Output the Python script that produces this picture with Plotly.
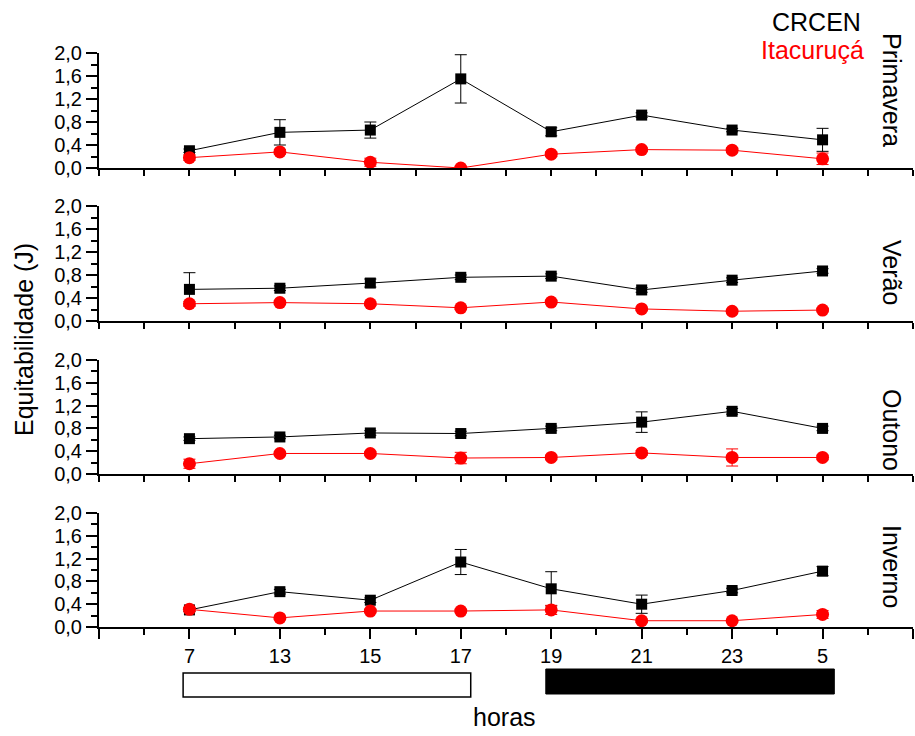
import plotly.graph_objects as go

hours = ["7", "13", "15", "17", "19", "21", "23", "5"]
seasons = ["Primavera", "Verão", "Outono", "Inverno"]

crcen = {
    "Primavera": [0.30, 0.62, 0.66, 1.55, 0.63, 0.92, 0.66, 0.49],
    "Verão":     [0.55, 0.57, 0.66, 0.76, 0.78, 0.54, 0.71, 0.87],
    "Outono":    [0.62, 0.65, 0.72, 0.71, 0.80, 0.91, 1.10, 0.80],
    "Inverno":   [0.30, 0.62, 0.47, 1.14, 0.67, 0.40, 0.64, 0.98],
}
crcen_err = {
    "Primavera": [0.03, 0.22, 0.14, 0.42, 0.07, 0.04, 0.03, 0.20],
    "Verão":     [0.29, 0.04, 0.07, 0.04, 0.04, 0.04, 0.04, 0.04],
    "Outono":    [0.03, 0.03, 0.04, 0.04, 0.04, 0.18, 0.05, 0.04],
    "Inverno":   [0.03, 0.04, 0.04, 0.22, 0.30, 0.16, 0.04, 0.08],
}
itac = {
    "Primavera": [0.18, 0.28, 0.10, 0.00, 0.24, 0.32, 0.31, 0.16],
    "Verão":     [0.30, 0.32, 0.30, 0.23, 0.33, 0.21, 0.17, 0.19],
    "Outono":    [0.18, 0.36, 0.36, 0.28, 0.29, 0.37, 0.29, 0.29],
    "Inverno":   [0.31, 0.16, 0.28, 0.28, 0.30, 0.11, 0.11, 0.22],
}
itac_err = {
    "Primavera": [0.05, 0.04, 0.07, 0.02, 0.04, 0.03, 0.04, 0.10],
    "Verão":     [0.04, 0.03, 0.03, 0.03, 0.03, 0.03, 0.02, 0.03],
    "Outono":    [0.08, 0.03, 0.03, 0.10, 0.04, 0.04, 0.15, 0.04],
    "Inverno":   [0.03, 0.03, 0.03, 0.03, 0.08, 0.03, 0.02, 0.07],
}
y_ticks = [0.0, 0.4, 0.8, 1.2, 1.6, 2.0]
y_ticktext = ["0,0", "0,4", "0,8", "1,2", "1,6", "2,0"]

W, H = 915, 736
FONT = "Liberation Sans, Arial, sans-serif"
xpos = list(range(1, len(hours) + 1))

# pixel positions of each panel (y of 2.0, y of 0.0)
panels_px = [(53, 168), (206, 321), (360, 474), (513, 627)]
x_left_px, x_right_px = 99, 913

fig = go.Figure()
layout = dict(
    width=W, height=H, autosize=False,
    margin=dict(l=0, r=0, t=0, b=0, pad=0, autoexpand=False),
    paper_bgcolor="white", plot_bgcolor="white",
    showlegend=False,
    font=dict(family=FONT, color="black"),
)

for i, s in enumerate(seasons):
    n = i + 1
    xa = "x" if n == 1 else f"x{n}"
    ya = "y" if n == 1 else f"y{n}"
    fig.add_trace(go.Scatter(
        x=xpos, y=crcen[s], xaxis=xa, yaxis=ya, mode="lines+markers",
        line=dict(color="black", width=1),
        marker=dict(symbol="square", size=11, color="black"),
        error_y=dict(type="data", array=crcen_err[s], color="black", thickness=1, width=6),
        name="CRCEN",
    ))
    fig.add_trace(go.Scatter(
        x=xpos, y=itac[s], xaxis=xa, yaxis=ya, mode="lines+markers",
        line=dict(color="red", width=1),
        marker=dict(symbol="circle", size=13, color="red"),
        error_y=dict(type="data", array=itac_err[s], color="red", thickness=1, width=6),
        name="Itacuruçá",
    ))
    top, bot = panels_px[i]
    xkey = "xaxis" if n == 1 else f"xaxis{n}"
    ykey = "yaxis" if n == 1 else f"yaxis{n}"
    layout[xkey] = dict(
        domain=[x_left_px / W, x_right_px / W], anchor=ya,
        range=[0, len(hours) + 1], tickmode="array",
        tickvals=list(range(0, len(hours) + 2)),
        ticktext=([""] + hours + [""]) if n == 4 else [""] * (len(hours) + 2),
        showticklabels=(n == 4), automargin=False,
        ticks="outside", ticklen=10, tickwidth=2, tickcolor="black",
        minor=dict(dtick=0.5, tick0=0, ticks="outside", ticklen=6, tickwidth=2, tickcolor="black"),
        showline=True, linewidth=2, linecolor="black",
        showgrid=False, zeroline=False,
        tickfont=dict(size=20, family=FONT, color="black"),
        fixedrange=True,
    )
    layout[ykey] = dict(
        domain=[1 - bot / H, 1 - top / H], anchor=xa,
        range=[0, 2.0], tickmode="array", tickvals=y_ticks, ticktext=y_ticktext,
        automargin=False,
        ticks="outside", ticklen=11, tickwidth=2, tickcolor="black",
        minor=dict(dtick=0.2, tick0=0, ticks="outside", ticklen=6, tickwidth=2, tickcolor="black"),
        showline=True, linewidth=2, linecolor="black",
        showgrid=False, zeroline=False,
        tickfont=dict(size=20, family=FONT, color="black"),
        fixedrange=True,
    )

fig.update_layout(**layout)

season_label_y = [90, 272, 430, 566]
annotations = []
for s, yc in zip(seasons, season_label_y):
    annotations.append(dict(
        text=s, x=892 / W, y=1 - yc / H, xref="paper", yref="paper",
        showarrow=False, textangle=90, xanchor="center", yanchor="middle",
        font=dict(size=25, family=FONT, color="black"),
    ))
annotations += [
    dict(text="CRCEN", x=816 / W, y=1 - 22 / H, xref="paper", yref="paper",
         showarrow=False, xanchor="center", yanchor="middle",
         font=dict(size=25, family=FONT, color="black")),
    dict(text="Itacuruçá", x=812 / W, y=1 - 50 / H, xref="paper", yref="paper",
         showarrow=False, xanchor="center", yanchor="middle",
         font=dict(size=25, family=FONT, color="red")),
    dict(text="Equitabilidade (J)", x=24 / W, y=1 - 340 / H, xref="paper", yref="paper",
         showarrow=False, textangle=-90, xanchor="center", yanchor="middle",
         font=dict(size=25, family=FONT, color="black")),
    dict(text="horas", x=504 / W, y=1 - 717 / H, xref="paper", yref="paper",
         showarrow=False, xanchor="center", yanchor="middle",
         font=dict(size=25, family=FONT, color="black")),
]
fig.update_layout(annotations=annotations)

# day / night bars (in x data units of bottom axis)
day_span = (0.93, 4.11)
night_span = (4.94, 8.13)
fig.add_shape(type="rect", xref="x4", yref="paper",
              x0=day_span[0], x1=day_span[1], y0=1 - 697 / H, y1=1 - 673 / H,
              line=dict(color="black", width=1.5), fillcolor="white")
fig.add_shape(type="rect", xref="x4", yref="paper",
              x0=night_span[0], x1=night_span[1], y0=1 - 694 / H, y1=1 - 669 / H,
              line=dict(color="black", width=1), fillcolor="black")

fig.write_html(
    "out.html",
    config={"displayModeBar": False, "staticPlot": True},
    post_script="document.body.style.margin='0';document.body.style.overflow='hidden';",
)
